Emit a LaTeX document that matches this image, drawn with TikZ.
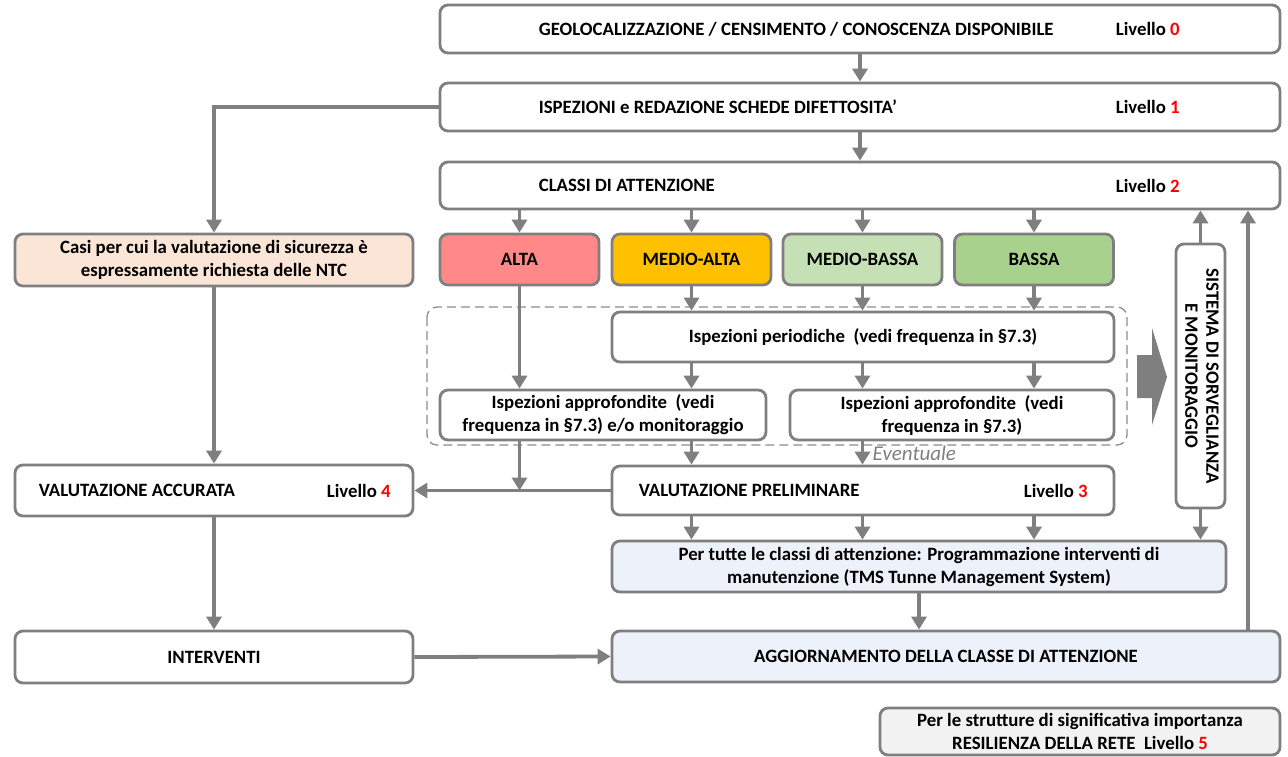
\documentclass[tikz,border=0pt]{standalone}
\usepackage{fontspec}
\setmainfont{Carlito}
\usetikzlibrary{arrows.meta, positioning, calc}
\definecolor{linea}{RGB}{127,127,127}
\definecolor{rosso}{RGB}{255,0,0}
\definecolor{alta}{RGB}{255,137,137}
\definecolor{medioalta}{RGB}{255,192,0}
\definecolor{mediobassa}{RGB}{197,224,180}
\definecolor{bassa}{RGB}{169,209,142}
\definecolor{casi}{RGB}{251,229,214}
\definecolor{azzurro}{RGB}{237,241,250}
\definecolor{grigio}{RGB}{242,242,242}
\newcommand{\livello}[1]{Livello~\textcolor{rosso}{#1}}
\tikzset{
  box/.style={draw=linea, line width=2.8pt, rounded corners=8pt, fill=white,
    inner sep=0pt, align=center},
  testo/.style={inner sep=0pt, anchor=west},
  freccia/.style={draw=linea, line width=3.8pt, -{Triangle[width=15pt,length=13pt]}}
}

\begin{document}
\begin{tikzpicture}[x=1pt, y=-1pt, font=\bfseries\fontsize{18.8}{23}\selectfont]
    \useasboundingbox (0,0) rectangle (1288,756);
    % Livelli 0-2
    \node[box, minimum width=840pt, minimum height=48pt] (liv0) at (860,29) {};
    \node[box, minimum width=840pt, minimum height=48pt] (liv1) at (860,107) {};
    \node[box, minimum width=840pt, minimum height=47pt] (liv2) at (860,185.5) {};
    \node[testo] (t0) at ($(liv0.west)+(100,0)$) {GEOLOCALIZZAZIONE / CENSIMENTO / CONOSCENZA DISPONIBILE};
    \node[testo] (t1) at ($(liv1.west)+(100,0)$) {ISPEZIONI e REDAZIONE SCHEDE DIFETTOSITA’};
    \node[testo] (t2) at ($(liv2.west)+(100,0)$) {CLASSI DI ATTENZIONE};
    \foreach \n/\k in {liv0/0, liv1/1, liv2/2} {
        \node[testo] (l\k) at ($(\n.west)+(677,0)$) {\livello{\k}};
    }
    \draw[freccia] (liv0) -- (liv1);
    \draw[freccia] (liv1) -- (liv2);
    % Classi di attenzione
    \foreach \x/\nome/\col/\etichetta in {519.5/alta/alta/ALTA, 691.5/ma/medioalta/MEDIO-ALTA,
        862.5/mb/mediobassa/MEDIO-BASSA, 1034/ba/bassa/BASSA} {
        \node[box, fill=\col, minimum width=159pt, minimum height=51pt] (\nome) at (\x,259.5) {\etichetta};
        \draw[freccia] (liv2.south -| \nome.north) -- (\nome.north);
    }
    \node[box, fill=casi, minimum width=398pt, minimum height=52pt] (casi) at (214,260)
        {Casi per cui la valutazione di sicurezza è\\espressamente richiesta delle NTC};
    \draw[freccia] (liv1.west) -| (casi.north);
    % Ispezioni
    \draw[linea!90, line width=1.3pt, dashed, dash pattern=on 9pt off 5pt, rounded corners=10pt]
        (427,307) rectangle (1127,445);
    \node[box, minimum width=502pt, minimum height=50pt] (period) at (863,337)
        {Ispezioni periodiche~~(vedi frequenza in §7.3)};
    \node[box, minimum width=326pt, minimum height=50pt] (appr1) at (603,415)
        {Ispezioni approfondite~~(vedi\\frequenza in §7.3) e/o monitoraggio};
    \node[box, minimum width=324pt, minimum height=50pt] (appr2) at (952,415)
        {Ispezioni approfondite~~(vedi\\frequenza in §7.3)};
    \foreach \nome in {ma, mb, ba} {
        \draw[freccia] (\nome.south) -- (\nome.south |- period.north);
    }
    \draw[freccia] (alta.south) -- (alta.south |- appr1.north);
    \draw[freccia] (period.south -| ma) -- (appr1.north -| ma);
    \draw[freccia] (period.south -| mb) -- (appr2.north -| mb);
    \draw[freccia] (period.south -| ba) -- (appr2.north -| ba);
    % Freccia verso il sistema di sorveglianza
    \fill[linea] (1137,355) -- (1152,355) -- (1152,328) -- (1167,377) -- (1152,425)
        -- (1152,398) -- (1137,398) -- cycle;
    % Livello 3 e 4
    \node[box, minimum width=502pt, minimum height=49pt] (prel) at (863,490.5) {};
    \node[testo] (tp) at ($(prel.west)+(28,0)$) {VALUTAZIONE PRELIMINARE};
    \node[testo] (l3) at ($(prel.west)+(413,0)$) {\livello{3}};
    \node[box, minimum width=398pt, minimum height=51pt] (acc) at (214,490.5) {};
    \node[testo] (ta) at ($(acc.west)+(25,0)$) {VALUTAZIONE ACCURATA};
    \node[testo] (l4) at ($(acc.west)+(313,0)$) {\livello{4}};
    \coordinate (nodo) at (alta.south |- prel.west);
    \draw[freccia] (alta |- appr1.south) -- (nodo);
    \draw[freccia] (prel.west) -- (acc.east);
    \draw[freccia] (ma |- appr1.south) -- (ma |- prel.north);
    \draw[freccia] (mb |- appr2.south) -- (mb |- prel.north)
        node[midway, right=5pt, font=\itshape\mdseries\fontsize{21}{24}\selectfont, text=linea] (ev) {Eventuale};
    \draw[freccia] (casi.south) -- (acc.north);
    % Sistema di sorveglianza e monitoraggio
    \node[box, minimum width=49pt, minimum height=264pt] (sist) at (1200.5,376)
        {\rotatebox{-90}{\begin{tabular}{@{}c@{}}SISTEMA DI SORVEGLIANZA\\[-2pt]E MONITORAGGIO\end{tabular}}};
    \draw[freccia] (sist.north) -- (sist.north |- liv2.south);
    % Programmazione e aggiornamento
    \node[box, fill=azzurro, minimum width=614pt, minimum height=51pt] (prog) at (919,566.5)
        {Per tutte le classi di attenzione: Programmazione interventi di\\manutenzione (TMS Tunne Management System)};
    \foreach \nome in {ma, mb, ba} {
        \draw[freccia] (\nome |- prel.south) -- (\nome |- prog.north);
    }
    \draw[freccia] (sist.south) -- (sist.south |- prog.north);
    \node[box, minimum width=398pt, minimum height=52pt] (interv) at (214,657) {INTERVENTI};
    \node[box, fill=azzurro, minimum width=668pt, minimum height=51pt] (aggior) at (946,656.5)
        {AGGIORNAMENTO DELLA CLASSE DI ATTENZIONE};
    \draw[freccia] (acc.south) -- (interv.north);
    \draw[freccia] (interv.east) -- (aggior.west);
    \draw[freccia] (prog.south) -- (prog.south |- aggior.north);
    \coordinate (ritorno) at (1248,0);
    \draw[freccia] (ritorno |- aggior.north) -- (ritorno |- liv2.south);
    % Livello 5
    \node[box, fill=grigio, minimum width=400pt, minimum height=47pt] (resil) at (1080,731.5)
        {Per le strutture di significativa importanza\\RESILIENZA DELLA RETE~~\livello{5}};
\end{tikzpicture}
\end{document}
